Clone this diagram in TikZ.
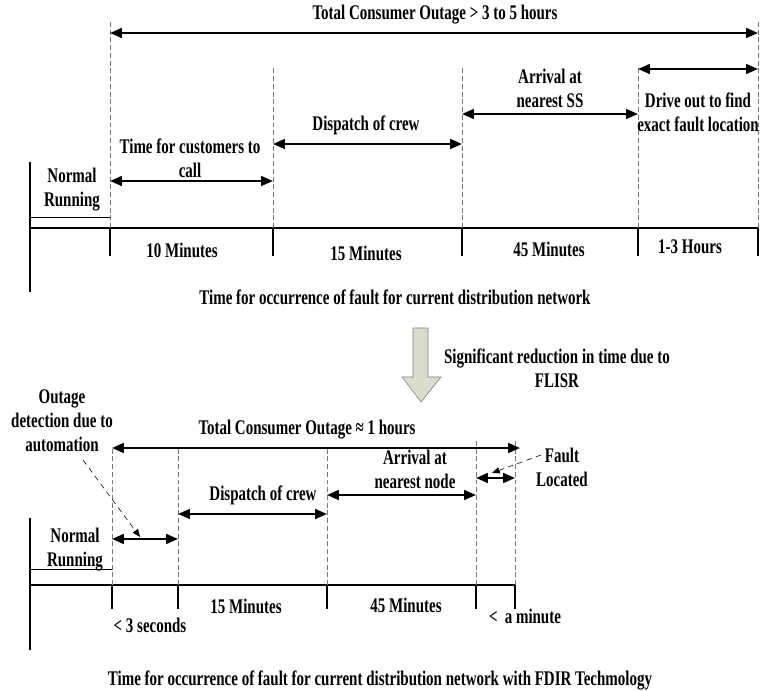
\documentclass[tikz,border=0pt]{standalone}
\usepackage{fontspec}
\setmainfont{Liberation Serif}[FakeStretch=0.72]
\usetikzlibrary{arrows.meta}
\usetikzlibrary{calc}
\usetikzlibrary{positioning}
\definecolor{blockfill}{RGB}{218,221,204}
\definecolor{guidegray}{RGB}{120,120,120}

\tikzset{
  lbl/.style={font=\bfseries\fontsize{14.8}{17}\selectfont, align=center, inner sep=1pt},
  span/.style={line width=1.5pt, {Triangle[length=8.5pt,width=7pt]}-{Triangle[length=8.5pt,width=7pt]}},
  guide/.style={guidegray, thin, dash pattern=on 3.5pt off 2pt},
  axis/.style={line width=1.6pt},
  tick/.style={line width=1.1pt},
  leader/.style={thin, dash pattern=on 4pt off 3pt, -{Triangle[length=5.5pt,width=4.5pt]}}
}

\begin{document}
\begin{tikzpicture}
    \useasboundingbox (0,0) rectangle (19,17.275);

    % current network: time axis
    \coordinate (A0) at (0.75,11.575);
    \coordinate (A1) at (2.75,11.575);
    \coordinate (A2) at (6.825,11.575);
    \coordinate (A3) at (11.55,11.575);
    \coordinate (A4) at (15.95,11.575);
    \coordinate (A5) at (18.95,11.575);
    \coordinate (Atop) at (0.75,13.225);
    \coordinate (Abot) at (0.75,9.975);
    \coordinate (Anr) at (0.75,11.85);
    \draw[axis] (A0) -- (A5);
    \draw[tick] (Atop) -- (Abot);
    \draw[thin] (Anr) -- (A1 |- Anr);
    \foreach \p in {A1,A2,A3,A4,A5}
        \draw[tick] (\p) -- ++(0,-0.7);

    % dashed guides
    \draw[guide] (A1) -- ++(0,5.2);
    \draw[guide] (A2) -- ++(0,4.0);
    \draw[guide] (A3) -- ++(0,4.0);
    \draw[guide] (A4) -- ++(0,4.0);
    \draw[guide] (A5) -- ++(0,5.2);

    % spans
    \draw[span] ($(A1)+(0,4.875)$) -- ($(A5)+(0,4.875)$);
    \draw[span] ($(A1)+(0,1.175)$) -- ($(A2)+(0,1.175)$);
    \draw[span] ($(A2)+(0,2.1)$) -- ($(A3)+(0,2.1)$);
    \draw[span] ($(A3)+(0,2.85)$) -- ($(A4)+(0,2.85)$);
    \draw[span] ($(A4)+(0,3.975)$) -- ($(A5)+(0,3.975)$);

    \node[lbl] (totA) at (10.875,16.9) {Total Consumer Outage > 3 to 5 hours};
    \node[lbl] (normA) at (1.8,12.525) {Normal\\Running};
    \node[lbl] (callA) at (4.75,13.325) {Time for customers to\\call};
    \node[lbl] (crewA) at (9.15,14.15) {Dispatch of crew};
    \node[lbl] (ssA) at (13.75,15.075) {Arrival at\\nearest SS};
    \node[lbl] (driveA) at (17.45,14.475) {Drive out to find\\exact fault location};
    \node[lbl] (m10) at (4.55,11.025) {10 Minutes};
    \node[lbl] (m15a) at (9.15,10.95) {15 Minutes};
    \node[lbl] (m45a) at (13.725,11.05) {45 Minutes};
    \node[lbl] (h13) at (17.25,11.1) {1-3 Hours};
    \node[lbl] (capA) at (9.875,9.85) {Time for occurrence of fault for current distribution network};

    % reduction arrow
    \draw[gray, fill=blockfill] (10.325,9.075) -- (10.7,9.075) -- (10.7,7.85) -- (11.025,7.85)
        -- (10.525,7.225) -- (10.05,7.85) -- (10.325,7.85) -- cycle;
    \node[lbl] (redu) at (13.925,8.075) {Significant reduction in time due to\\FLISR};

    % FDIR network: time axis
    \coordinate (B0) at (0.75,2.65);
    \coordinate (B1) at (2.8,2.65);
    \coordinate (B2) at (4.45,2.65);
    \coordinate (B3) at (8.175,2.65);
    \coordinate (B4) at (11.9,2.65);
    \coordinate (B5) at (12.875,2.65);
    \coordinate (Btop) at (0.75,4.325);
    \coordinate (Bbot) at (0.75,1.025);
    \coordinate (Bnr) at (0.75,3.05);
    \draw[axis] (B0) -- (B5);
    \draw[tick] (Btop) -- (Bbot);
    \draw[thin] (Bnr) -- (B1 |- Bnr);
    \foreach \p in {B1,B2,B3,B4,B5}
        \draw[tick] (\p) -- ++(0,-0.6);

    % dashed guides
    \draw[guide] (B1) -- ++(0,3.45);
    \draw[guide] (B2) -- ++(0,3.45);
    \draw[guide] (B3) -- ++(0,3.45);
    \draw[guide] (B4) -- ++(0,3.6);
    \draw[guide] (B5) -- ++(0,3.6);

    % spans
    \draw[span] ($(B1)+(0,3.425)$) -- ($(B5)+(0.125,3.425)$);
    \draw[span] ($(B1)+(0,1.15)$) -- ($(B2)+(0,1.15)$);
    \draw[span] ($(B2)+(0,1.775)$) -- ($(B3)+(0,1.775)$);
    \draw[span] ($(B3)+(0,2.25)$) -- ($(B4)+(0,2.25)$);
    \draw[span] ($(B4)+(0,2.675)$) -- ($(B5)+(0,2.675)$);

    \node[lbl] (totB) at (7.675,6.525) {Total Consumer Outage ≈ 1 hours};
    \node[lbl] (normB) at (1.875,3.525) {Normal\\Running};
    \node[lbl] (autoB) at (1.55,6.75) {Outage\\detection due to\\automation};
    \node[lbl] (crewB) at (6.575,4.9) {Dispatch of crew};
    \node[lbl] (nodeB) at (10.375,5.55) {Arrival at\\nearest node};
    \node[lbl] (faultB) at (14.05,5.6) {Fault\\Located};
    \node[lbl] (s3) at (3.75,1.65) {< 3 seconds};
    \node[lbl] (m15b) at (6.15,2.125) {15 Minutes};
    \node[lbl] (m45b) at (10.15,2.15) {45 Minutes};
    \node[lbl] (amin) at (13.125,1.875) {<\, a minute};
    \node[lbl] (capB) at (9.5,0.275) {Time for occurrence of fault for current distribution network with FDIR Techmology};

    % leaders
    \coordinate (autoS) at (2.075,5.775);
    \coordinate (autoT) at (3.5,3.85);
    \coordinate (faultS) at (13.525,5.9);
    \coordinate (faultT) at (12.3,5.45);
    \draw[leader] (autoS) -- (autoT);
    \draw[leader] (faultS) -- (faultT);
\end{tikzpicture}
\end{document}
